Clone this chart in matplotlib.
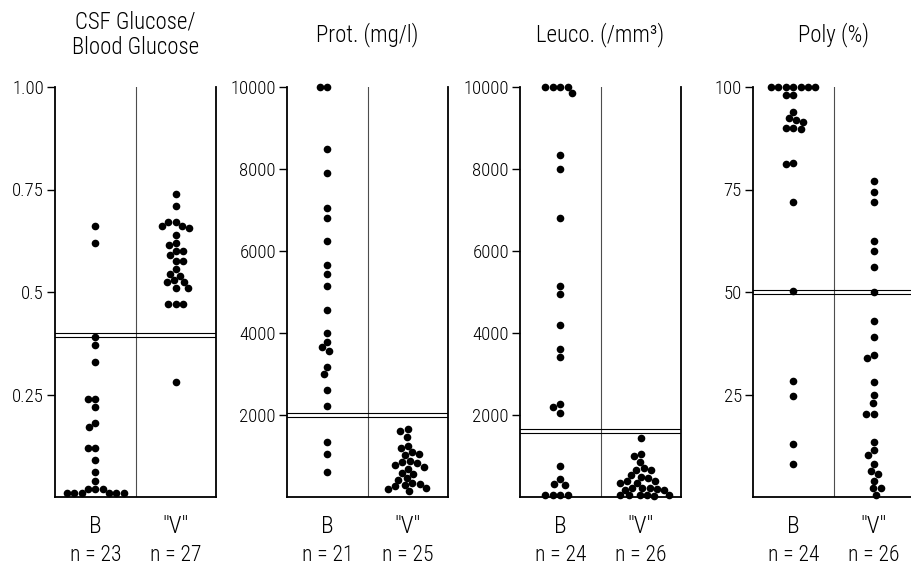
import numpy as np
import matplotlib
matplotlib.use('Agg')
import matplotlib.pyplot as plt
from matplotlib import font_manager

# pick a condensed sans if one is installed
have = {f.name for f in font_manager.fontManager.ttflist}
narrow = [n for n in ['Roboto Condensed', 'Liberation Sans Narrow', 'Archivo Narrow',
                      'PT Sans Narrow', 'Fira Sans Condensed', 'IBM Plex Sans Condensed',
                      'Asap Condensed', 'Barlow Semi Condensed'] if n in have]
plt.rcParams['font.family'] = narrow[:1] + ['DejaVu Sans']
plt.rcParams['font.weight'] = 'light'

# values (B = bacterial, "V" = viral)
glu_B = [0.66, 0.62, 0.39, 0.37, 0.33, 0.24, 0.24, 0.22, 0.18, 0.17, 0.12, 0.12,
         0.09, 0.06, 0.04, 0.02, 0.02, 0.02, 0.01, 0.01, 0.01, 0.01, 0.01, 0.01]
glu_V = [0.74, 0.71, 0.67, 0.67, 0.66, 0.66, 0.655, 0.64, 0.62, 0.615, 0.60, 0.60,
         0.59, 0.575, 0.575, 0.555, 0.545, 0.54, 0.53, 0.525, 0.525, 0.51, 0.51,
         0.47, 0.47, 0.47, 0.28]
prot_B = [10000, 10000, 8500, 7900, 7050, 6800, 6250, 5650, 5450, 5150, 4550,
          4000, 3780, 3650, 3560, 3160, 3000, 2600, 2220, 1350, 1050, 600]
prot_V = [1650, 1620, 1470, 1240, 1190, 1090, 1060, 1020, 890, 860, 830, 780,
          740, 680, 580, 560, 460, 420, 330, 310, 290, 260, 210, 190, 150]
leuco_B = [10000, 10000, 10000, 10000, 9850, 8350, 8000, 6800, 5150, 4950, 4200,
           3620, 3420, 2260, 2190, 2060, 760, 430, 320, 290, 60, 60, 60, 60]
leuco_V = [1430, 1040, 990, 860, 700, 670, 650, 540, 500, 460, 400, 390, 350,
           330, 230, 220, 210, 200, 180, 170, 60, 50, 50, 40, 40, 30]
poly_B = [100, 100, 100, 100, 100, 100, 100, 98, 98, 94, 92.5, 92, 91.5, 90, 90,
          89.7, 81.5, 81.3, 72, 50.3, 28.3, 24.7, 13, 8]
poly_V = [77, 74.5, 72, 62.5, 60, 56, 50, 43, 39, 34.7, 34, 28, 24.8, 23, 20.2,
          20.2, 13.5, 11.5, 10.3, 8, 6.3, 5.5, 4, 2.2, 2.2, 0.5]

titles = ['CSF Glucose/\nBlood Glucose', 'Prot. (mg/l)', 'Leuco. (/mm³)', 'Poly (%)']
n_B = [23, 21, 24, 24]
n_V = [27, 25, 26, 26]
ylims = [(0, 1.0), (0, 10000), (0, 10000), (0, 100)]
yticks = [[1.0, 0.75, 0.5, 0.25], [10000, 8000, 6000, 4000, 2000],
          [10000, 8000, 6000, 4000, 2000], [100, 75, 50, 25]]
yticklabels = [['1.00', '0.75', '0.5', '0.25'],
               ['10000', '8000', '6000', '4000', '2000'],
               ['10000', '8000', '6000', '4000', '2000'],
               ['100', '75', '50', '25']]
cutoffs = [(0.40, 0.39), (2040, 1960), (1650, 1550), (50.5, 49.5)]
groups = [(glu_B, glu_V), (prot_B, prot_V), (leuco_B, leuco_V), (poly_B, poly_V)]

W, H, DPI = 9.11, 5.68, 100
lefts = [55, 287, 520, 753]   # px
ax_w, ax_h, ax_bot = 161, 410, 71
DOT = 7.4  # dot spacing in px


def swarm(vals, ymin, ymax, d=DOT):
    # simple beeswarm: put each dot as close to the centre as it fits
    vals = np.asarray(vals, float)
    ypx = (vals - ymin) / (ymax - ymin) * ax_h
    order = np.argsort(-vals, kind='stable')
    placed = []
    xs = np.zeros(len(vals))
    for i in order:
        y = ypx[i]
        cands = [0.0]
        for px, py in placed:
            dy = abs(py - y)
            if dy < d:
                dx = np.sqrt(d * d - dy * dy)
                cands += [px - dx, px + dx]
        cands.sort(key=lambda c: (abs(c), c))
        for c in cands:
            if all((c - px) ** 2 + (y - py) ** 2 >= d * d - 1e-6 for px, py in placed):
                xs[i] = c
                break
        placed.append((xs[i], y))
    return xs / (ax_w / 2.0)


fig = plt.figure(figsize=(W, H), dpi=DPI)

for k in range(4):
    ax = fig.add_axes([lefts[k] / (W * DPI), ax_bot / (H * DPI),
                       ax_w / (W * DPI), ax_h / (H * DPI)])
    ymin, ymax = ylims[k]
    ax.set_xlim(0, 2)
    ax.set_ylim(ymin, ymax)
    ax.spines['top'].set_visible(False)
    for s in ['left', 'bottom', 'right']:
        ax.spines[s].set_linewidth(1.3)
    ax.axvline(1, color='0.3', lw=0.8)
    for c in cutoffs[k]:
        ax.axhline(c, color='k', lw=0.8)

    ax.set_xticks([])
    ax.set_yticks(yticks[k])
    ax.set_yticklabels(yticklabels[k], fontsize=13.5)
    ax.tick_params(axis='y', direction='out', length=6, width=1, pad=2)

    for j, vals in enumerate(groups[k]):
        xo = swarm(vals, ymin, ymax)
        ax.plot(0.5 + j + xo, vals, 'o', color='k', ms=5.5, mew=0, clip_on=False)

    tr = ax.get_xaxis_transform()
    ax.text(0.5, -0.071, 'B', transform=tr, ha='center', va='center', fontsize=17)
    ax.text(1.5, -0.071, '"V"', transform=tr, ha='center', va='center', fontsize=17)
    ax.text(0.5, -0.142, 'n = %d' % n_B[k], transform=tr, ha='center', va='center', fontsize=15.5)
    ax.text(1.5, -0.142, 'n = %d' % n_V[k], transform=tr, ha='center', va='center', fontsize=15.5)

    cx = (lefts[k] + ax_w / 2.0) / (W * DPI)
    fig.text(cx, 1 - 35 / (H * DPI), titles[k], ha='center', va='center',
             fontsize=16.5, linespacing=1.15, multialignment='center')

fig.savefig('out.png', dpi=DPI)
